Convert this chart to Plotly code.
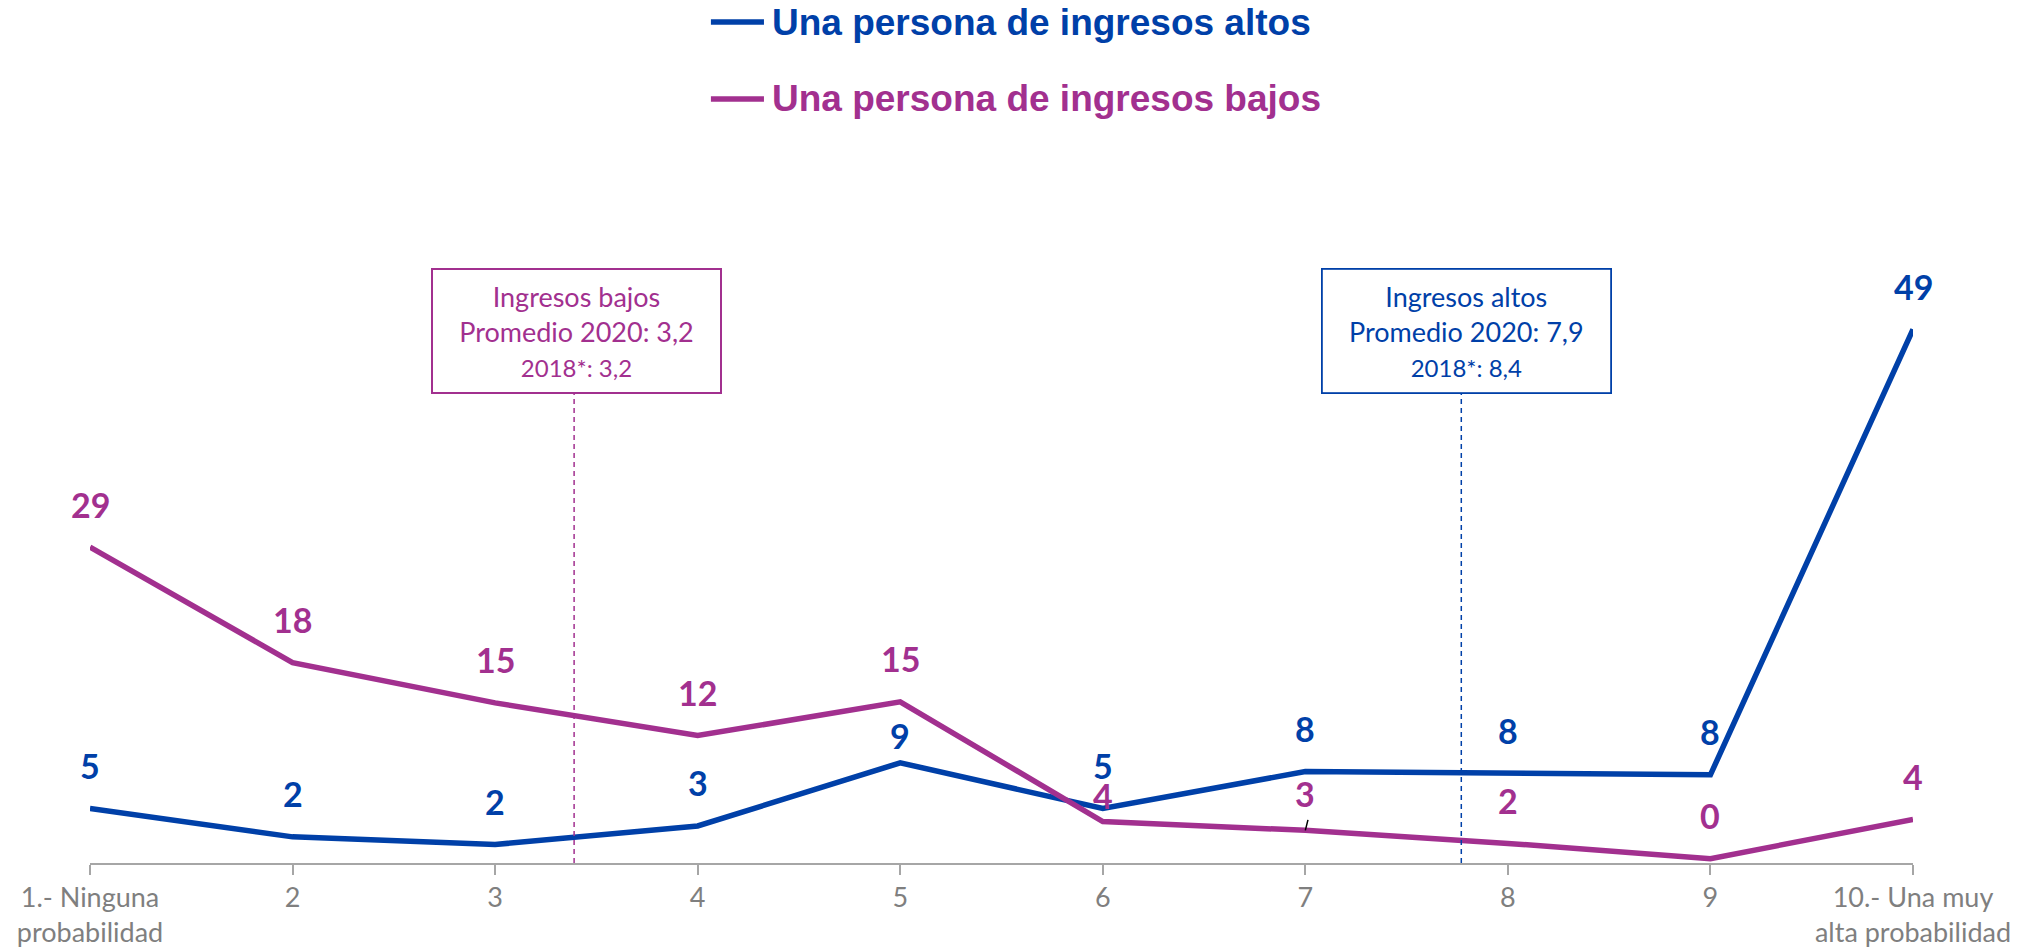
import plotly.graph_objects as go

# ---- data ----
categories = [1, 2, 3, 4, 5, 6, 7, 8, 9, 10]
tick_labels = ["1.- Ninguna<br>probabilidad", "2", "3", "4", "5", "6", "7", "8", "9",
               "10.- Una muy<br>alta probabilidad"]
altos = [5.0, 2.4, 1.7, 3.4, 9.2, 5.0, 8.4, 8.2, 8.1, 49.0]
bajos = [29.0, 18.4, 14.7, 11.7, 14.8, 3.8, 3.0, 1.8, 0.4, 4.0]
name_altos = "Una persona de ingresos altos"
name_bajos = "Una persona de ingresos bajos"
box_bajos = ["Ingresos bajos", "Promedio 2020: 3,2", "2018*: 3,2"]
box_altos = ["Ingresos altos", "Promedio 2020: 7,9", "2018*: 8,4"]
# positions of the dashed average markers on the category axis (as drawn)
mark_bajos = 3.39
mark_altos = 7.77

BLUE = "#0040A8"
PURPLE = "#A2308F"
GREY = "#7F7F7F"
AXIS = "#A6A6A6"

fig = go.Figure()
fig.add_trace(go.Scatter(x=categories, y=altos, mode="lines", name=name_altos,
                         line=dict(color=BLUE, width=5.5), hoverinfo="skip", showlegend=False))
fig.add_trace(go.Scatter(x=categories, y=bajos, mode="lines", name=name_bajos,
                         line=dict(color=PURPLE, width=5.5), hoverinfo="skip", showlegend=False))

# ---- manual legend (long line samples as in the reference) ----
for name, col, ly in [(name_altos, BLUE, 1.404), (name_bajos, PURPLE, 1.2755)]:
    fig.add_shape(type="line", xref="paper", yref="paper", x0=0.3406, x1=0.3697, y0=ly, y1=ly,
                  line=dict(color=col, width=5.5))
    fig.add_annotation(xref="paper", yref="paper", x=0.373, y=ly, xanchor="left", yanchor="middle",
                       text=name, showarrow=False,
                       font=dict(family="Liberation Sans, Arial", size=37, weight="bold", color=col))

label_font = dict(family="Lato", size=34, weight="bold")
default_shift = 43
shift_altos = {5: 27}
shift_bajos = {6: 26, 7: 37}
for xv, yv in zip(categories, altos):
    fig.add_annotation(x=xv, y=yv, text=f"{yv:.0f}", showarrow=False,
                       yshift=shift_altos.get(xv, default_shift),
                       font=dict(color=BLUE, **label_font))
for xv, yv in zip(categories, bajos):
    fig.add_annotation(x=xv, y=yv, text=f"{yv:.0f}", showarrow=False,
                       yshift=shift_bajos.get(xv, default_shift),
                       font=dict(color=PURPLE, **label_font))
# small leader line for the "3" label
fig.add_annotation(x=categories[6], y=bajos[6], text="", showarrow=True, arrowhead=0,
                   arrowwidth=1.5, arrowcolor="black", ax=3, ay=-12, standoff=0)

box_bottom = 0.783


def box_text(lines):
    return (f"{lines[0]}<br>{lines[1]}<br><span style='font-size:24px'>{lines[2]}</span>")


for mx, lines, col, bw, xs in [(mark_bajos, box_bajos, PURPLE, 2, 2),
                               (mark_altos, box_altos, BLUE, 1.8, 5)]:
    fig.add_shape(type="line", xref="x", yref="paper", x0=mx, x1=mx, y0=0, y1=box_bottom,
                  line=dict(color=col, width=1.5, dash="5px,4px"))
    fig.add_annotation(x=mx, y=box_bottom, xref="x", yref="paper", xanchor="center", yanchor="bottom",
                       xshift=xs, text=box_text(lines), showarrow=False,
                       font=dict(family="Lato", size=27, color=col),
                       bordercolor=col, borderwidth=bw, borderpad=0, bgcolor="white",
                       width=287, height=122, align="center", valign="middle")

# the page body adds an 8px offset, so the figure is sized to fit the window
fig.update_layout(
    width=2016, height=943,
    margin=dict(l=82, r=111, t=256, b=88, autoexpand=False),
    paper_bgcolor="white", plot_bgcolor="white",
    showlegend=False,
    xaxis=dict(range=[1, 10], tickmode="array", tickvals=categories, ticktext=tick_labels,
               showline=True, linecolor=AXIS, linewidth=1.5, ticks="outside", ticklen=10,
               tickcolor=AXIS, tickwidth=1.5, showgrid=False, zeroline=False, automargin=False,
               tickfont=dict(family="Lato", size=27, color=GREY)),
    yaxis=dict(range=[0, 55], visible=False, showgrid=False, zeroline=False, automargin=False),
)

fig.write_html("out.html")
